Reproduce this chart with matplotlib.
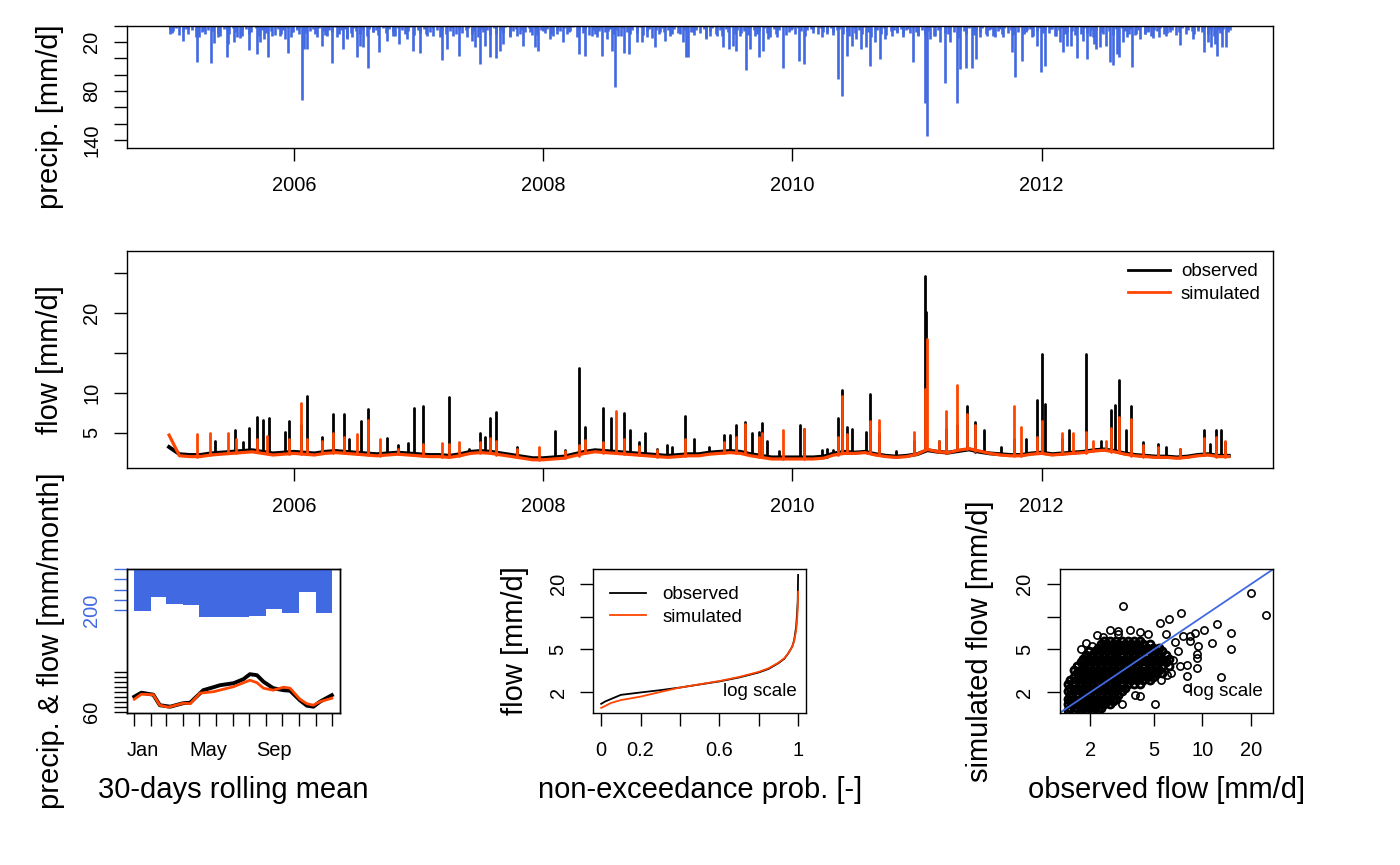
import numpy as np
import matplotlib
matplotlib.use("Agg")
import matplotlib.pyplot as plt
from matplotlib.ticker import NullLocator

plt.rcParams['font.family'] = ['Liberation Sans', 'DejaVu Sans']

BLUE = '#4169E1'
ORANGE = '#FF4500'

# ---- daily precipitation [mm/d] (decimal year, value)
precip_t = [2005.008, 2005.035, 2005.110, 2005.155, 2005.222, 2005.243, 2005.270, 2005.334, 2005.364, 2005.396,
            2005.463, 2005.476, 2005.521, 2005.543, 2005.583, 2005.644, 2005.703, 2005.730, 2005.765, 2005.797,
            2005.823, 2005.890, 2005.930, 2005.957, 2005.984, 2006.024, 2006.064, 2006.083, 2006.110, 2006.184,
            2006.224, 2006.265, 2006.310, 2006.345, 2006.398, 2006.425, 2006.465, 2006.505, 2006.532, 2006.553,
            2006.599, 2006.639, 2006.687, 2006.746, 2006.799, 2006.847, 2006.906, 2006.960, 2007.013, 2007.067,
            2007.120, 2007.192, 2007.227, 2007.280, 2007.326, 2007.387, 2007.427, 2007.454, 2007.494, 2007.534,
            2007.574, 2007.622, 2007.655, 2007.681, 2007.735, 2007.788, 2007.842, 2007.895, 2007.935, 2007.962,
            2008.002, 2008.056, 2008.109, 2008.162, 2008.216, 2008.291, 2008.336, 2008.390, 2008.430, 2008.475,
            2008.510, 2008.550, 2008.576, 2008.603, 2008.648, 2008.691, 2008.750, 2008.790, 2008.830, 2008.897,
            2008.937, 2008.977, 2009.017, 2009.124, 2009.143, 2009.164, 2009.204, 2009.306, 2009.338, 2009.392,
            2009.445, 2009.493, 2009.520, 2009.547, 2009.579, 2009.624, 2009.659, 2009.699, 2009.734, 2009.766,
            2009.806, 2009.873, 2009.924, 2009.993, 2010.055, 2010.092, 2010.167, 2010.234, 2010.274, 2010.327,
            2010.367, 2010.399, 2010.434, 2010.474, 2010.514, 2010.554, 2010.589, 2010.621, 2010.661, 2010.701,
            2010.741, 2010.795, 2010.835, 2010.888, 2010.929, 2010.969, 2011.009, 2011.062, 2011.081, 2011.102,
            2011.143, 2011.183, 2011.225, 2011.263, 2011.322, 2011.343, 2011.396, 2011.437, 2011.469, 2011.503,
            2011.557, 2011.610, 2011.664, 2011.691, 2011.758, 2011.784, 2011.838, 2011.873, 2011.918, 2011.958,
            2011.998, 2012.025, 2012.078, 2012.118, 2012.145, 2012.167, 2012.199, 2012.231, 2012.284, 2012.327,
            2012.364, 2012.386, 2012.418, 2012.439, 2012.471, 2012.514, 2012.546, 2012.573, 2012.600, 2012.621,
            2012.653, 2012.680, 2012.720, 2012.760, 2012.787, 2012.827, 2012.854, 2012.894, 2012.942, 2012.993,
            2013.027, 2013.107, 2013.214, 2013.254, 2013.300, 2013.335, 2013.361, 2013.388, 2013.407, 2013.442,
            2013.476, 2013.514]
precip_mm = [10.6, 6.5, 18.7, 4.5, 44.2, 14.6, 6.5, 46.3, 21.5, 14.6,
             39.0, 22.7, 20.7, 14.6, 12.6, 29.6, 34.9, 20.7, 16.6, 38.1,
             12.6, 12.6, 16.6, 34.1, 8.5, 4.5, 91.7, 28.8, 28.8, 14.6,
             24.8, 12.6, 46.3, 14.6, 28.8, 16.6, 14.6, 39.0, 24.8, 26.8,
             52.0, 8.5, 32.9, 18.7, 12.6, 22.7, 16.6, 30.8, 33.7, 12.6,
             12.6, 41.8, 28.8, 12.6, 37.0, 14.6, 18.7, 26.8, 47.1, 24.8,
             39.0, 40.2, 30.8, 22.7, 14.6, 12.6, 24.8, 8.5, 26.8, 30.8,
             6.5, 16.6, 10.6, 20.7, 6.5, 34.9, 37.0, 12.6, 14.6, 37.0,
             16.6, 30.8, 74.7, 12.6, 33.7, 34.9, 20.7, 20.7, 14.6, 26.8,
             8.5, 18.7, 12.6, 20.7, 39.0, 38.1, 8.5, 16.6, 12.6, 12.6,
             26.8, 28.8, 24.8, 30.8, 12.6, 54.0, 28.8, 12.6, 39.0, 30.8,
             16.6, 14.6, 52.0, 4.5, 43.0, 47.1, 4.5, 14.6, 10.6, 8.5,
             65.3, 86.8, 37.0, 24.8, 16.6, 28.8, 26.8, 49.1, 20.7, 41.0,
             16.6, 12.6, 8.5, 14.6, 4.5, 44.2, 12.6, 95.0, 135.5, 16.6,
             12.6, 20.7, 70.2, 20.7, 95.0, 53.2, 52.4, 52.4, 41.0, 14.6,
             12.6, 12.6, 4.5, 14.6, 32.9, 63.3, 43.8, 8.5, 14.6, 24.8,
             57.2, 49.9, 4.5, 12.6, 20.7, 32.9, 25.6, 25.6, 40.2, 18.7,
             41.0, 12.6, 22.7, 28.8, 26.8, 24.8, 45.0, 47.9, 34.9, 39.0,
             20.7, 14.6, 51.1, 10.6, 16.6, 10.6, 6.5, 15.8, 14.6, 12.6,
             8.5, 23.9, 16.6, 6.5, 32.1, 20.7, 26.8, 22.7, 37.0, 26.0,
             26.0, 5.3]

# light rain days (days since 2005-01-01) filling the fringe of small bars
light_day = [2, 10, 21, 28, 40, 49, 55, 68, 78, 86, 97, 104, 113, 125, 133, 143, 149, 161, 170, 177,
             188, 196, 207, 214, 226, 235, 241, 254, 264, 272, 283, 290, 299, 311, 319, 329, 335, 347, 356, 363,
             374, 382, 393, 400, 412, 421, 427, 440, 450, 458, 469, 476, 485, 497, 505, 515, 521, 533, 542, 549,
             560, 568, 579, 586, 598, 607, 613, 626, 636, 644, 655, 662, 671, 683, 691, 701, 707, 719, 728, 735,
             746, 754, 765, 772, 784, 793, 799, 812, 822, 830, 841, 848, 857, 869, 877, 887, 893, 905, 914, 921,
             932, 940, 951, 958, 970, 979, 985, 998, 1008, 1016, 1027, 1034, 1043, 1055, 1063, 1073, 1079, 1091, 1100, 1107,
             1118, 1126, 1137, 1144, 1156, 1165, 1171, 1184, 1194, 1202, 1213, 1220, 1229, 1241, 1249, 1259, 1265, 1277, 1286, 1293,
             1304, 1312, 1323, 1330, 1342, 1351, 1357, 1370, 1380, 1388, 1399, 1406, 1415, 1427, 1435, 1445, 1451, 1463, 1472, 1479,
             1490, 1498, 1509, 1516, 1528, 1537, 1543, 1556, 1566, 1574, 1585, 1592, 1601, 1613, 1621, 1631, 1637, 1649, 1658, 1665,
             1676, 1684, 1695, 1702, 1714, 1723, 1729, 1742, 1752, 1760, 1771, 1778, 1787, 1799, 1807, 1817, 1823, 1835, 1844, 1851,
             1862, 1870, 1881, 1888, 1900, 1909, 1915, 1928, 1938, 1946, 1957, 1964, 1973, 1985, 1993, 2003, 2009, 2021, 2030, 2037,
             2048, 2056, 2067, 2074, 2086, 2095, 2101, 2114, 2124, 2132, 2143, 2150, 2159, 2171, 2179, 2189, 2195, 2207, 2216, 2223,
             2234, 2242, 2253, 2260, 2272, 2281, 2287, 2300, 2310, 2318, 2329, 2336, 2345, 2357, 2365, 2375, 2381, 2393, 2402, 2409,
             2420, 2428, 2439, 2446, 2458, 2467, 2473, 2486, 2496, 2504, 2515, 2522, 2531, 2543, 2551, 2561, 2567, 2579, 2588, 2595,
             2606, 2614, 2625, 2632, 2644, 2653, 2659, 2672, 2682, 2690, 2701, 2708, 2717, 2729, 2737, 2747, 2753, 2765, 2774, 2781,
             2792, 2800, 2811, 2818, 2830, 2839, 2845, 2858, 2868, 2876, 2887, 2894, 2903, 2915, 2923, 2933, 2939, 2951, 2960, 2967,
             2978, 2986, 2997, 3004, 3016, 3025, 3031, 3044, 3054, 3062, 3073, 3080, 3089, 3101]
light_mm = [5, 9, 3, 12, 7, 4, 10, 6, 14, 3, 8, 11, 5, 7, 2, 9, 13, 4, 6, 10, 3, 8, 15,
            6, 4, 11, 8, 3, 13, 5, 9, 2, 7, 12, 4, 10, 6, 3, 14, 8, 5, 11, 3, 9, 7, 4,
            10, 3, 7, 12, 5, 8, 2, 11, 6, 4, 15, 9, 3, 7, 10, 5, 13, 4, 8, 6, 12, 3, 9,
            4, 8, 13, 3, 6, 10, 7, 2, 12, 5, 9, 4, 11, 8, 3, 6, 14, 5, 10, 7, 3, 11, 6,
            9, 5, 3, 11, 7, 14, 4, 8, 6, 12, 3, 10, 5, 9, 2, 13, 7, 4, 11, 6, 8, 3, 12,
            3, 12, 6, 9, 4, 10, 13, 5, 7, 3, 11, 8, 2, 14, 6, 9, 4, 12, 5, 10, 7, 3, 8,
            7, 4, 10, 5, 13, 3, 8, 11, 6, 9, 2, 12, 7, 4, 15, 5, 10, 3, 8, 6, 11, 4, 9,
            11, 6, 3, 8, 12, 5, 9, 4, 14, 7, 3, 10, 6, 13, 4, 8, 2, 11, 5, 9, 7, 12, 3,
            5, 10, 7, 3, 9, 14, 4, 11, 6, 2, 12, 8, 5, 10, 3, 7, 13, 6, 4, 9, 11, 3, 8,
            8, 3, 12, 6, 4, 10, 7, 13, 3, 9, 5, 11, 2, 8, 14, 4, 6, 10, 3, 12, 7, 5, 9,
            4, 11, 6, 9, 3, 8, 12, 5, 10, 7, 2, 13, 6, 4, 9, 11, 3, 8, 15, 5, 7, 10, 3,
            12, 5, 8, 3, 10, 6, 4, 14, 7, 11, 3, 9, 5, 12, 8, 2, 10, 6, 4, 13, 7, 3, 9,
            6, 9, 4, 13, 5, 3, 11, 8, 7, 12, 4, 10, 3, 9, 6, 14, 5, 8, 11, 2, 7, 12, 4,
            9, 3, 7, 11, 4, 12, 6, 2, 10, 8, 13, 5, 7, 3, 11, 9, 4, 6, 12, 8, 3, 10, 5,
            7, 11, 4, 8, 3, 10, 6, 13, 5, 9, 4, 8]

# ---- flow [mm/d]: monthly base flow (from Jan 2005) plus flood peaks
base_t = 2005 + np.arange(103) / 12
obs_base_q = [3.2, 2.3, 2.2, 2.2, 2.4, 2.5, 2.6, 2.7, 2.8, 2.6, 2.4, 2.5,
              2.6, 2.5, 2.4, 2.6, 2.7, 2.6, 2.5, 2.4, 2.3, 2.4, 2.5, 2.4,
              2.3, 2.2, 2.2, 2.1, 2.3, 2.6, 2.7, 2.6, 2.4, 2.2, 2.0, 1.8,
              1.8, 1.9, 2.0, 2.3, 2.6, 2.8, 2.7, 2.6, 2.5, 2.4, 2.3, 2.2,
              2.1, 2.2, 2.3, 2.3, 2.5, 2.6, 2.7, 2.6, 2.3, 2.1, 1.9, 1.9,
              1.9, 1.9, 1.9, 2.0, 2.4, 2.6, 2.5, 2.6, 2.3, 2.1, 2.0, 2.1,
              2.3, 2.8, 2.6, 2.5, 2.7, 2.9, 2.6, 2.4, 2.3, 2.2, 2.2, 2.4,
              2.5, 2.3, 2.4, 2.5, 2.6, 2.8, 2.9, 2.7, 2.4, 2.2, 2.1, 2.0,
              2.0, 1.9, 2.0, 2.2, 2.3, 2.1, 2.1]
sim_base_q = [4.7, 2.1, 2.0, 2.0, 2.2, 2.3, 2.4, 2.5, 2.6, 2.4, 2.2, 2.3,
              2.4, 2.3, 2.2, 2.4, 2.5, 2.4, 2.3, 2.2, 2.1, 2.2, 2.3, 2.2,
              2.1, 2.0, 2.0, 1.9, 2.1, 2.4, 2.5, 2.4, 2.2, 2.0, 1.8, 1.6,
              1.6, 1.7, 1.8, 2.1, 2.4, 2.6, 2.5, 2.4, 2.3, 2.2, 2.1, 2.0,
              1.9, 2.0, 2.1, 2.1, 2.3, 2.4, 2.5, 2.4, 2.1, 1.9, 1.7, 1.7,
              1.7, 1.7, 1.7, 1.8, 2.2, 2.4, 2.4, 2.5, 2.2, 2.0, 1.9, 2.0,
              2.3, 2.9, 2.6, 2.5, 2.8, 3.0, 2.7, 2.4, 2.2, 2.1, 2.1, 2.3,
              2.4, 2.2, 2.3, 2.4, 2.5, 2.7, 2.8, 2.6, 2.3, 2.1, 2.0, 1.9,
              1.9, 1.8, 1.9, 2.1, 2.2, 2.0, 2.0]

obs_peak_t = [2005.371, 2005.525, 2005.593, 2005.644, 2005.706, 2005.751, 2005.801, 2005.926, 2005.958, 2006.062,
              2006.107, 2006.223, 2006.312, 2006.401, 2006.442, 2006.543, 2006.596, 2006.751, 2006.840, 2006.914,
              2006.961, 2007.033, 2007.243, 2007.404, 2007.493, 2007.537, 2007.576, 2007.626, 2007.789, 2008.092,
              2008.175, 2008.291, 2008.338, 2008.478, 2008.546, 2008.650, 2008.694, 2008.769, 2008.819, 2008.917,
              2008.991, 2009.036, 2009.142, 2009.214, 2009.333, 2009.452, 2009.496, 2009.547, 2009.621, 2009.674,
              2009.733, 2009.757, 2009.793, 2009.890, 2010.059, 2010.089, 2010.237, 2010.281, 2010.326, 2010.364,
              2010.400, 2010.439, 2010.474, 2010.593, 2010.622, 2010.696, 2010.830, 2010.972, 2011.064, 2011.075,
              2011.176, 2011.230, 2011.319, 2011.399, 2011.467, 2011.535, 2011.674, 2011.781, 2011.876, 2011.961,
              2012.003, 2012.024, 2012.163, 2012.222, 2012.356, 2012.474, 2012.557, 2012.584, 2012.616, 2012.676,
              2012.717, 2012.809, 2012.933, 2012.993, 2013.105, 2013.298, 2013.348, 2013.401, 2013.437, 2013.467]
obs_peak_q = [4.0, 5.3, 3.8, 5.6, 7.0, 6.6, 6.8, 5.1, 6.5, 6.0,
              9.6, 4.4, 7.3, 7.4, 4.2, 6.5, 8.0, 4.3, 3.5, 3.7,
              8.1, 8.3, 9.5, 3.0, 4.9, 4.5, 6.8, 7.6, 3.2, 5.2,
              2.8, 13.1, 5.7, 8.1, 6.8, 7.5, 5.3, 3.8, 4.9, 3.0,
              3.4, 3.2, 7.1, 4.2, 3.2, 4.65, 4.7, 6.0, 6.3, 4.9,
              5.1, 6.2, 4.0, 2.7, 6.0, 5.5, 2.8, 3.0, 2.8, 6.9,
              10.3, 5.7, 5.5, 5.1, 9.9, 5.0, 2.7, 4.0, 24.7, 20.1,
              3.9, 5.5, 6.0, 8.4, 6.3, 5.3, 3.2, 4.2, 4.2, 9.1,
              14.9, 8.6, 4.2, 5.3, 14.9, 4.0, 7.8, 8.5, 11.6, 5.3,
              8.3, 3.8, 3.6, 3.2, 2.9, 5.3, 3.6, 5.3, 5.3, 3.8]
sim_peak_t = [2005.223, 2005.332, 2005.469, 2005.534, 2005.706, 2005.786, 2005.958, 2006.062, 2006.107, 2006.223,
              2006.312, 2006.401, 2006.507, 2006.596, 2006.691, 2006.840, 2007.033, 2007.190, 2007.243, 2007.329,
              2007.493, 2007.576, 2007.626, 2007.789, 2007.967, 2008.175, 2008.291, 2008.338, 2008.478, 2008.582,
              2008.650, 2008.769, 2008.917, 2009.142, 2009.452, 2009.547, 2009.621, 2009.733, 2009.757, 2009.926,
              2010.089, 2010.364, 2010.400, 2010.439, 2010.622, 2010.696, 2010.972, 2011.064, 2011.080, 2011.176,
              2011.230, 2011.319, 2011.399, 2011.467, 2011.781, 2011.837, 2011.961, 2012.003, 2012.163, 2012.252,
              2012.356, 2012.415, 2012.519, 2012.557, 2012.616, 2012.717, 2012.809, 2012.933, 2013.105, 2013.298,
              2013.401, 2013.467]
sim_peak_q = [4.8, 4.9, 4.9, 4.2, 4.2, 4.6, 4.2, 8.7, 4.2, 4.0,
              4.9, 4.4, 4.8, 6.6, 4.2, 3.0, 3.6, 3.7, 3.6, 3.8,
              3.8, 4.3, 4.0, 2.9, 3.2, 2.7, 3.5, 4.1, 3.8, 7.7,
              4.2, 3.3, 2.8, 4.2, 3.8, 4.5, 6.1, 4.5, 5.0, 5.3,
              5.4, 4.5, 9.6, 4.8, 6.5, 6.6, 5.1, 10.5, 16.8, 4.0,
              7.7, 11.0, 7.4, 6.0, 8.4, 5.7, 4.5, 6.5, 4.9, 4.9,
              5.1, 4.0, 4.0, 5.6, 7.0, 6.75, 3.5, 3.2, 2.9, 4.3,
              4.5, 4.0]

# ---- 30-days rolling mean regime [mm/month]
month_names = ['Jan', 'Feb', 'Mar', 'Apr', 'May', 'Jun', 'Jul', 'Aug', 'Sep', 'Oct', 'Nov', 'Dec']
month_len = [31, 28, 31, 30, 31, 30, 31, 31, 30, 31, 30, 31]
reg_precip = [204, 134, 172, 175, 235, 232, 232, 229, 195, 212, 113, 212]
reg_obs_day = [0, 13, 35, 47, 66, 90, 103, 127, 146, 158, 183, 201, 213, 226, 238, 256, 275, 287, 305, 318, 330, 342, 364]
reg_obs = [90, 98, 94, 73, 70, 77, 78, 103, 109, 113, 117, 125, 135, 133, 120, 107, 103, 102, 83, 72, 70, 80, 93]
reg_sim_day = [0, 13, 35, 47, 63, 90, 103, 121, 146, 183, 213, 226, 238, 256, 275, 287, 305, 318, 330, 342, 364]
reg_sim = [85, 95, 94, 73, 69, 77, 76, 97, 100, 110, 123, 118, 107, 103, 109, 107, 85, 76, 73, 80, 87]

# ---- flow duration curve
fdc_p = [0, 0.02, 0.05, 0.1, 0.2, 0.3, 0.4, 0.5, 0.6, 0.7, 0.8, 0.85, 0.9, 0.93, 0.95, 0.97, 0.98, 0.99, 0.995, 0.998, 1.0]
fdc_obs = [1.57, 1.65, 1.74, 1.9, 2.0, 2.1, 2.22, 2.37, 2.53, 2.75, 3.06, 3.3, 3.73, 4.1, 4.6, 5.3, 6.1, 8.1, 11.0, 14.0, 24.4]
fdc_sim = [1.44, 1.5, 1.6, 1.7, 1.83, 2.02, 2.22, 2.38, 2.55, 2.78, 3.1, 3.35, 3.77, 4.15, 4.6, 5.3, 6.0, 7.5, 9.5, 12.0, 17.1]

# ---- observed vs simulated daily flow: isolated points and the dense cloud (rows of equal sim)
out_obs = [20.0, 24.8, 12.4, 15.0, 15.0, 11.5, 13.0, 10.2, 9.0, 9.2, 9.3, 9.2, 8.0, 8.0, 8.0, 7.35, 6.2, 5.45,
           3.2, 2.66, 2.97, 3.55, 4.1, 1.9, 2.05, 1.69, 1.9, 5.07, 3.15, 4.1, 3.8, 6.4, 7.25, 9.4, 8.35, 7.6,
           8.35, 6.8, 7.0, 6.6, 5.9, 4.6, 3.0, 2.4, 2.2, 1.75, 6.0, 5.5]
out_sim = [16.5, 10.4, 8.6, 7.05, 5.0, 5.7, 2.8, 7.6, 7.05, 4.5, 4.15, 3.4, 2.85, 3.6, 2.2, 10.9, 9.5, 8.7,
           12.6, 7.5, 7.4, 7.6, 7.3, 5.7, 5.4, 3.5, 4.15, 1.57, 1.55, 1.84, 1.9, 3.0, 3.5, 5.4, 6.0, 6.6,
           6.6, 5.8, 4.8, 4.0, 6.9, 6.9, 6.9, 6.5, 6.8, 5.0, 2.9, 2.6]
cloud_sim = [1.38, 1.45, 1.55, 1.65, 1.75, 1.9, 2.05, 2.2, 2.4, 2.6, 2.8,
             3.0, 3.25, 3.5, 3.8, 4.1, 4.4, 4.8, 5.2, 5.6, 6.0]
cloud_obs = [
    [1.45, 1.6, 1.75, 1.9, 2.05, 2.25],
    [1.5, 1.67, 1.82, 1.97, 2.15, 2.35],
    [1.45, 1.6, 1.75, 1.9, 2.05, 2.25, 2.45, 2.65],
    [1.5, 1.67, 1.82, 1.97, 2.15, 2.35, 2.55, 2.77],
    [1.45, 1.6, 1.75, 1.9, 2.05, 2.25, 2.45, 2.65, 2.9],
    [1.5, 1.67, 1.82, 1.97, 2.15, 2.35, 2.55, 2.77, 3.0],
    [1.45, 1.6, 1.75, 1.9, 2.05, 2.25, 2.45, 2.65, 2.9, 3.15],
    [1.5, 1.67, 1.82, 1.97, 2.15, 2.35, 2.55, 2.77, 3.0, 3.3],
    [1.45, 1.6, 1.75, 1.9, 2.05, 2.25, 2.45, 2.65, 2.9, 3.15, 3.45, 3.75, 4.1],
    [1.5, 1.67, 1.82, 1.97, 2.15, 2.35, 2.55, 2.77, 3.0, 3.3, 3.6, 3.9, 4.3, 4.7],
    [1.6, 1.75, 1.9, 2.05, 2.25, 2.45, 2.65, 2.9, 3.15, 3.45, 3.75, 4.1, 4.5, 4.9],
    [1.67, 1.82, 1.97, 2.15, 2.35, 2.55, 2.77, 3.0, 3.3, 3.6, 3.9, 4.3, 4.7, 5.15, 5.6],
    [1.6, 1.75, 1.9, 2.05, 2.25, 2.45, 2.65, 2.9, 3.15, 3.45, 3.75, 4.1, 4.5, 4.9, 5.4],
    [1.67, 1.82, 1.97, 2.15, 2.35, 2.55, 2.77, 3.0, 3.3, 3.6, 3.9, 4.3, 4.7, 5.15, 5.6, 6.2],
    [1.75, 1.9, 2.05, 2.25, 2.45, 2.65, 2.9, 3.15, 3.45, 3.75, 4.1, 4.5, 4.9, 5.4, 5.9],
    [1.82, 1.97, 2.15, 2.35, 2.55, 2.77, 3.0, 3.3, 3.6, 3.9, 4.3, 4.7, 5.15, 5.6, 6.2],
    [1.9, 2.05, 2.25, 2.45, 2.65, 2.9, 3.15, 3.45, 3.75, 4.1, 4.5, 4.9, 5.4, 5.9],
    [1.97, 2.15, 2.35, 2.55, 2.77, 3.0, 3.3, 3.6, 3.9, 4.3, 4.7, 5.15, 5.6],
    [2.25, 2.45, 2.65, 2.9, 3.15, 3.45, 3.75, 4.1, 4.5, 4.9, 5.4],
    [2.35, 2.55, 2.77, 3.0, 3.3, 3.6, 3.9, 4.3, 4.7],
    [2.45, 2.65, 2.9, 3.15, 3.45, 3.75, 4.1],
]

TICK_FS = 14.4
LAB_FS = 21
LEG_FS = 13.5
W, H = 1400, 865


def box(left, top, right, bottom):
    # axes rectangle given in pixels of the 1400x865 canvas
    return [left / W, 1 - bottom / H, (right - left) / W, (bottom - top) / H]


def style(ax):
    for s in ax.spines.values():
        s.set_linewidth(1.0)
    ax.tick_params(which='both', direction='out', length=9.4, width=1.0, labelsize=TICK_FS)
    ax.tick_params(axis='x', pad=11)
    ax.tick_params(axis='y', pad=9)


def flow_series(ax, base_q, peak_t, peak_q, color, base_lw):
    # base flow as a line, floods as sticks rising from the base flow of their month
    ax.plot(base_t, base_q, color=color, lw=base_lw, solid_joinstyle='round')
    idx = np.rint((np.asarray(peak_t) - 2005) * 12).astype(int)
    foot = np.asarray(base_q)[idx]
    ax.vlines(peak_t, foot, peak_q, color=color, lw=2.0, capstyle='round')


fig = plt.figure(figsize=(14, 8.65), dpi=100)

ax_p = fig.add_axes(box(126.7, 25.5, 1273, 148))
ax_q = fig.add_axes(box(126.7, 251, 1273, 468.3))
ax_r = fig.add_axes(box(126.7, 569.3, 340, 712.7))
ax_f = fig.add_axes(box(593.3, 569.3, 806, 712.7))
ax_s = fig.add_axes(box(1060, 569.3, 1273, 712.7))

years = [2006, 2008, 2010, 2012]
xlim_t = (2004.66, 2013.855)

# precipitation
style(ax_p)
light_t = 2005 + np.asarray(light_day) / 365.25
ax_p.vlines(light_t, 0, light_mm, color=BLUE, lw=1.9)
ax_p.vlines(precip_t, 0, precip_mm, color=BLUE, lw=1.9)
ax_p.set_xlim(*xlim_t)
ax_p.set_ylim(150, 0)
ax_p.set_xticks(years, [str(y) for y in years])
ax_p.set_yticks(range(0, 141, 20), ['', '20', '', '', '80', '', '', '140'], rotation=90, va='center')
ax_p.set_ylabel('precip. [mm/d]', fontsize=LAB_FS, va='center')
ax_p.yaxis.set_label_coords(-0.0669, 0.253)

# flow time series
style(ax_q)
flow_series(ax_q, obs_base_q, obs_peak_t, obs_peak_q, 'black', 2.8)
flow_series(ax_q, sim_base_q, sim_peak_t, sim_peak_q, ORANGE, 2.3)
ax_q.plot([], [], color='black', lw=2.0, label='observed')
ax_q.plot([], [], color=ORANGE, lw=2.0, label='simulated')
ax_q.set_xlim(*xlim_t)
ax_q.set_ylim(0.53, 27.8)
ax_q.set_xticks(years, [str(y) for y in years])
ax_q.set_yticks([5, 10, 15, 20, 25], ['5', '10', '', '20', ''], rotation=90, va='center')
ax_q.set_ylabel('flow [mm/d]', fontsize=LAB_FS, va='center')
ax_q.yaxis.set_label_coords(-0.0669, 0.5)
ax_q.legend(loc='upper right', frameon=False, fontsize=LEG_FS, handlelength=2.2,
            handletextpad=0.6, labelspacing=0.28, borderaxespad=0.25)

# regime
style(ax_r)
ax_rp = ax_r.twinx()
style(ax_rp)
ax_rp.yaxis.tick_left()
month_start = np.concatenate([[0], np.cumsum(month_len)])
ax_rp.bar(month_start[:-1], reg_precip, width=month_len, align='edge', color=BLUE, lw=0)
ax_rp.set_ylim(703, 0)
ax_rp.set_yticks([0, 50, 100, 150, 200], ['', '', '', '', '200'], rotation=90, va='center')
ax_rp.tick_params(axis='y', colors=BLUE, labelcolor=BLUE)
ax_r.plot(reg_obs_day, reg_obs, color='black', lw=2.8)
ax_r.plot(reg_sim_day, reg_sim, color=ORANGE, lw=2.0)
ax_r.set_xlim(-14, 379)
ax_r.set_ylim(58, 344.8)
ax_r.set_yticks(range(60, 141, 10), ['60'] + [''] * 8, rotation=90, va='center')
ax_r.set_xticks(month_start, [''] * 13)
mid = month_start[:-1] + np.array(month_len) / 2
ax_r.set_xticks(mid[[0, 4, 8]], [month_names[i] for i in (0, 4, 8)], minor=True)
ax_r.tick_params(axis='x', which='minor', length=0, pad=11 + 9.4)
ax_r.set_ylabel('precip. & flow [mm/month]', fontsize=LAB_FS, va='center')
ax_r.yaxis.set_label_coords(-0.355, 0.5)
ax_r.set_xlabel('30-days rolling mean', fontsize=LAB_FS, va='center')
ax_r.xaxis.set_label_coords(0.5, -0.539)

# flow duration curve
style(ax_f)
ax_f.plot(fdc_p, fdc_obs, color='black', lw=1.3, label='observed')
ax_f.plot(fdc_p, fdc_sim, color=ORANGE, lw=1.3, label='simulated')
ax_f.set_yscale('log')
ax_f.set_xlim(-0.04, 1.04)
ax_f.set_ylim(1.3, 27.5)
ax_f.yaxis.set_minor_locator(NullLocator())
ax_f.set_yticks([2, 5, 10, 20], ['2', '5', '', '20'], rotation=90, va='center')
ax_f.set_xticks([0, 0.2, 0.4, 0.6, 0.8, 1], ['0', '0.2', '', '0.6', '', '1'])
ax_f.legend(loc='upper left', frameon=False, fontsize=LEG_FS, handlelength=1.9,
            handletextpad=0.9, labelspacing=0.3, borderaxespad=0.5)
ax_f.text(0.958, 0.146, 'log scale', transform=ax_f.transAxes, ha='right', va='center', fontsize=LEG_FS)
ax_f.set_ylabel('flow [mm/d]', fontsize=LAB_FS, va='center')
ax_f.yaxis.set_label_coords(-0.368, 0.5)
ax_f.set_xlabel('non-exceedance prob. [-]', fontsize=LAB_FS, va='center')
ax_f.xaxis.set_label_coords(0.5, -0.539)

# scatter obs vs sim
style(ax_s)
cl_obs, cl_sim = [], []
for s, row in zip(cloud_sim, cloud_obs):
    cl_obs.extend(row)
    cl_sim.extend([s] * len(row))
ax_s.plot(cl_obs, cl_sim, 'o', mfc='none', mec='black', ms=5.0, mew=2.1, ls='none')
ax_s.plot(out_obs, out_sim, 'o', mfc='none', mec='black', ms=5.2, mew=1.2, ls='none')
ax_s.set_xscale('log')
ax_s.set_yscale('log')
ax_s.set_xlim(1.3, 27.5)
ax_s.set_ylim(1.3, 27.5)
ax_s.axline((2, 2), (10, 10), color=BLUE, lw=1.3)
ax_s.xaxis.set_minor_locator(NullLocator())
ax_s.yaxis.set_minor_locator(NullLocator())
ax_s.set_xticks([2, 5, 10, 20], ['2', '5', '10', '20'])
ax_s.set_yticks([2, 5, 10, 20], ['2', '5', '', '20'], rotation=90, va='center')
ax_s.text(0.953, 0.146, 'log scale', transform=ax_s.transAxes, ha='right', va='center', fontsize=LEG_FS)
ax_s.set_ylabel('simulated flow [mm/d]', fontsize=LAB_FS, va='center')
ax_s.yaxis.set_label_coords(-0.376, 0.5)
ax_s.set_xlabel('observed flow [mm/d]', fontsize=LAB_FS, va='center')
ax_s.xaxis.set_label_coords(0.5, -0.539)

fig.savefig('out.png', dpi=100)
